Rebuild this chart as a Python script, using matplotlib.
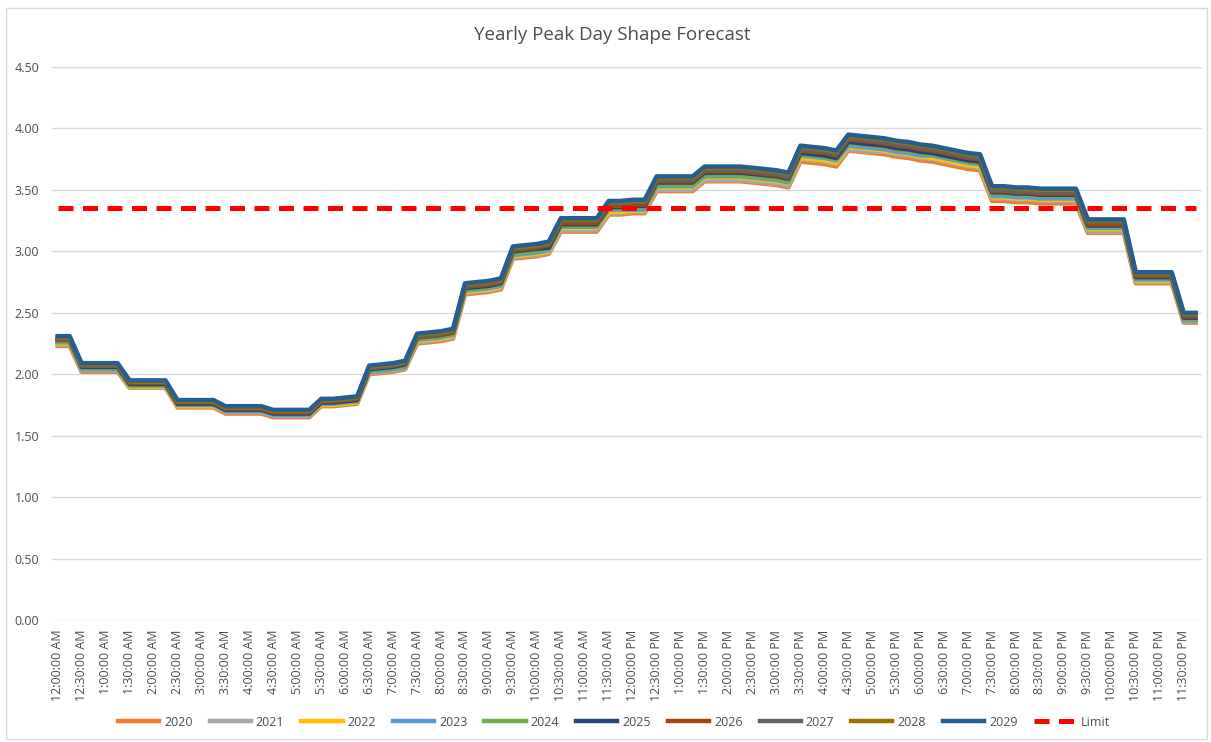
import matplotlib

matplotlib.use("Agg")

import matplotlib.pyplot as plt
from matplotlib.patches import Rectangle

plt.rcParams["font.family"] = ["Open Sans", "DejaVu Sans"]

TITLE = "Yearly Peak Day Shape Forecast"

# labelled categories (every other 15-minute step is shown)
TIME_LABELS = [
    "12:00:00 AM", "12:30:00 AM", "1:00:00 AM", "1:30:00 AM", "2:00:00 AM", "2:30:00 AM",
    "3:00:00 AM", "3:30:00 AM", "4:00:00 AM", "4:30:00 AM", "5:00:00 AM", "5:30:00 AM",
    "6:00:00 AM", "6:30:00 AM", "7:00:00 AM", "7:30:00 AM", "8:00:00 AM", "8:30:00 AM",
    "9:00:00 AM", "9:30:00 AM", "10:00:00 AM", "10:30:00 AM", "11:00:00 AM", "11:30:00 AM",
    "12:00:00 PM", "12:30:00 PM", "1:00:00 PM", "1:30:00 PM", "2:00:00 PM", "2:30:00 PM",
    "3:00:00 PM", "3:30:00 PM", "4:00:00 PM", "4:30:00 PM", "5:00:00 PM", "5:30:00 PM",
    "6:00:00 PM", "6:30:00 PM", "7:00:00 PM", "7:30:00 PM", "8:00:00 PM", "8:30:00 PM",
    "9:00:00 PM", "9:30:00 PM", "10:00:00 PM", "10:30:00 PM", "11:00:00 PM", "11:30:00 PM",
]

YEARS = ["2020", "2021", "2022", "2023", "2024", "2025", "2026", "2027", "2028", "2029"]
COLORS = ["#ED7D31", "#A5A5A5", "#FFC000", "#5B9BD5", "#70AD47",
          "#264478", "#9E480E", "#636363", "#997300", "#255E91"]

# 15-minute peak day shape, one list per year
y2020 = [2.23, 2.23, 2.02, 2.02, 2.02, 2.02, 1.89, 1.89, 1.89, 1.89, 1.73, 1.73, 1.73, 1.73,
         1.68, 1.68, 1.68, 1.68, 1.65, 1.65, 1.65, 1.65, 1.74, 1.74, 1.75, 1.76, 2.00, 2.01, 2.02, 2.04,
         2.25, 2.26, 2.27, 2.29, 2.65, 2.66, 2.67, 2.69, 2.94, 2.95, 2.96, 2.98, 3.16, 3.16, 3.16, 3.16,
         3.30, 3.30, 3.31, 3.31, 3.49, 3.49, 3.49, 3.49, 3.57, 3.57, 3.57, 3.57, 3.56, 3.55, 3.54, 3.52,
         3.73, 3.72, 3.71, 3.69, 3.82, 3.81, 3.80, 3.79, 3.77, 3.76, 3.74, 3.73, 3.71, 3.69, 3.67, 3.66,
         3.41, 3.41, 3.40, 3.40, 3.39, 3.39, 3.39, 3.39, 3.15, 3.15, 3.15, 3.15, 2.74, 2.74, 2.74, 2.74, 2.42, 2.42]
y2021 = [2.24, 2.24, 2.03, 2.03, 2.03, 2.03, 1.89, 1.89, 1.89, 1.89, 1.74, 1.74, 1.74, 1.74,
         1.69, 1.69, 1.69, 1.69, 1.66, 1.66, 1.66, 1.66, 1.75, 1.75, 1.76, 1.77, 2.01, 2.02, 2.03, 2.05,
         2.26, 2.27, 2.28, 2.30, 2.66, 2.67, 2.68, 2.70, 2.95, 2.96, 2.97, 2.99, 3.17, 3.17, 3.17, 3.17,
         3.31, 3.31, 3.32, 3.32, 3.50, 3.50, 3.50, 3.50, 3.58, 3.58, 3.58, 3.58, 3.57, 3.56, 3.55, 3.53,
         3.75, 3.74, 3.73, 3.71, 3.83, 3.82, 3.81, 3.81, 3.79, 3.78, 3.76, 3.75, 3.73, 3.71, 3.69, 3.68,
         3.43, 3.43, 3.42, 3.42, 3.41, 3.41, 3.41, 3.41, 3.16, 3.16, 3.16, 3.16, 2.75, 2.75, 2.75, 2.75, 2.43, 2.43]
y2022 = [2.25, 2.25, 2.04, 2.04, 2.04, 2.04, 1.90, 1.90, 1.90, 1.90, 1.74, 1.74, 1.74, 1.74,
         1.70, 1.70, 1.70, 1.70, 1.67, 1.67, 1.67, 1.67, 1.75, 1.75, 1.76, 1.77, 2.02, 2.03, 2.04, 2.06,
         2.27, 2.28, 2.29, 2.31, 2.67, 2.68, 2.69, 2.71, 2.96, 2.97, 2.98, 3.00, 3.19, 3.19, 3.19, 3.19,
         3.32, 3.32, 3.33, 3.33, 3.52, 3.52, 3.52, 3.52, 3.60, 3.60, 3.60, 3.60, 3.59, 3.58, 3.57, 3.55,
         3.76, 3.75, 3.74, 3.72, 3.85, 3.84, 3.83, 3.82, 3.80, 3.79, 3.77, 3.76, 3.74, 3.72, 3.70, 3.69,
         3.44, 3.44, 3.43, 3.43, 3.42, 3.42, 3.42, 3.42, 3.18, 3.18, 3.18, 3.18, 2.76, 2.76, 2.76, 2.76, 2.44, 2.44]
y2023 = [2.26, 2.26, 2.04, 2.04, 2.04, 2.04, 1.91, 1.91, 1.91, 1.91, 1.75, 1.75, 1.75, 1.75,
         1.70, 1.70, 1.70, 1.70, 1.67, 1.67, 1.67, 1.67, 1.76, 1.76, 1.77, 1.78, 2.02, 2.03, 2.04, 2.06,
         2.28, 2.29, 2.30, 2.32, 2.68, 2.69, 2.70, 2.72, 2.97, 2.98, 2.99, 3.01, 3.20, 3.20, 3.20, 3.20,
         3.34, 3.34, 3.34, 3.34, 3.53, 3.53, 3.53, 3.53, 3.61, 3.61, 3.61, 3.61, 3.60, 3.59, 3.58, 3.56,
         3.78, 3.77, 3.76, 3.74, 3.86, 3.85, 3.84, 3.83, 3.81, 3.80, 3.78, 3.78, 3.76, 3.74, 3.72, 3.71,
         3.45, 3.45, 3.44, 3.44, 3.43, 3.43, 3.43, 3.43, 3.19, 3.19, 3.19, 3.19, 2.77, 2.77, 2.77, 2.77, 2.44, 2.44]
y2024 = [2.27, 2.27, 2.05, 2.05, 2.05, 2.05, 1.91, 1.91, 1.91, 1.91, 1.76, 1.76, 1.76, 1.76,
         1.71, 1.71, 1.71, 1.71, 1.68, 1.68, 1.68, 1.68, 1.77, 1.77, 1.78, 1.79, 2.03, 2.04, 2.05, 2.07,
         2.29, 2.30, 2.31, 2.33, 2.69, 2.70, 2.71, 2.73, 2.98, 2.99, 3.00, 3.02, 3.21, 3.21, 3.21, 3.21,
         3.35, 3.35, 3.36, 3.36, 3.54, 3.54, 3.54, 3.54, 3.62, 3.62, 3.62, 3.62, 3.61, 3.60, 3.59, 3.57,
         3.79, 3.78, 3.77, 3.75, 3.88, 3.87, 3.86, 3.85, 3.83, 3.82, 3.80, 3.79, 3.77, 3.75, 3.73, 3.72,
         3.47, 3.47, 3.46, 3.46, 3.45, 3.45, 3.45, 3.45, 3.20, 3.20, 3.20, 3.20, 2.78, 2.78, 2.78, 2.78, 2.45, 2.45]
y2025 = [2.28, 2.28, 2.06, 2.06, 2.06, 2.06, 1.92, 1.92, 1.92, 1.92, 1.76, 1.76, 1.76, 1.76,
         1.71, 1.71, 1.71, 1.71, 1.68, 1.68, 1.68, 1.68, 1.77, 1.77, 1.78, 1.79, 2.04, 2.05, 2.06, 2.08,
         2.30, 2.31, 2.32, 2.34, 2.70, 2.71, 2.72, 2.74, 3.00, 3.01, 3.02, 3.03, 3.22, 3.22, 3.22, 3.22,
         3.36, 3.36, 3.37, 3.37, 3.56, 3.56, 3.56, 3.56, 3.64, 3.64, 3.64, 3.64, 3.63, 3.62, 3.61, 3.59,
         3.80, 3.79, 3.78, 3.76, 3.89, 3.88, 3.87, 3.86, 3.84, 3.83, 3.81, 3.80, 3.78, 3.76, 3.74, 3.73,
         3.48, 3.48, 3.47, 3.47, 3.46, 3.46, 3.46, 3.46, 3.21, 3.21, 3.21, 3.21, 2.79, 2.79, 2.79, 2.79, 2.46, 2.46]
y2026 = [2.28, 2.28, 2.07, 2.07, 2.07, 2.07, 1.93, 1.93, 1.93, 1.93, 1.77, 1.77, 1.77, 1.77,
         1.72, 1.72, 1.72, 1.72, 1.69, 1.69, 1.69, 1.69, 1.78, 1.78, 1.79, 1.80, 2.05, 2.06, 2.07, 2.09,
         2.30, 2.31, 2.32, 2.34, 2.71, 2.72, 2.73, 2.75, 3.01, 3.02, 3.03, 3.05, 3.23, 3.23, 3.23, 3.23,
         3.37, 3.37, 3.38, 3.38, 3.57, 3.57, 3.57, 3.57, 3.65, 3.65, 3.65, 3.65, 3.64, 3.63, 3.62, 3.60,
         3.82, 3.81, 3.80, 3.78, 3.91, 3.90, 3.89, 3.88, 3.86, 3.85, 3.83, 3.82, 3.80, 3.78, 3.76, 3.75,
         3.49, 3.49, 3.48, 3.48, 3.47, 3.47, 3.47, 3.47, 3.22, 3.22, 3.22, 3.22, 2.80, 2.80, 2.80, 2.80, 2.47, 2.47]
y2027 = [2.29, 2.29, 2.07, 2.07, 2.07, 2.07, 1.94, 1.94, 1.94, 1.94, 1.78, 1.78, 1.78, 1.78,
         1.73, 1.73, 1.73, 1.73, 1.70, 1.70, 1.70, 1.70, 1.79, 1.79, 1.80, 1.81, 2.05, 2.06, 2.07, 2.09,
         2.31, 2.32, 2.33, 2.35, 2.72, 2.73, 2.74, 2.76, 3.02, 3.03, 3.04, 3.06, 3.25, 3.25, 3.25, 3.25,
         3.39, 3.39, 3.40, 3.40, 3.58, 3.58, 3.58, 3.58, 3.66, 3.66, 3.66, 3.66, 3.65, 3.64, 3.63, 3.61,
         3.83, 3.82, 3.81, 3.79, 3.92, 3.91, 3.90, 3.89, 3.87, 3.86, 3.84, 3.83, 3.81, 3.79, 3.77, 3.76,
         3.50, 3.50, 3.49, 3.49, 3.48, 3.48, 3.48, 3.48, 3.24, 3.24, 3.24, 3.24, 2.81, 2.81, 2.81, 2.81, 2.48, 2.48]
y2028 = [2.30, 2.30, 2.08, 2.08, 2.08, 2.08, 1.94, 1.94, 1.94, 1.94, 1.78, 1.78, 1.78, 1.78,
         1.73, 1.73, 1.73, 1.73, 1.70, 1.70, 1.70, 1.70, 1.79, 1.79, 1.80, 1.81, 2.06, 2.07, 2.08, 2.10,
         2.32, 2.33, 2.34, 2.36, 2.73, 2.74, 2.75, 2.77, 3.03, 3.04, 3.05, 3.07, 3.26, 3.26, 3.26, 3.26,
         3.40, 3.40, 3.41, 3.41, 3.60, 3.60, 3.60, 3.60, 3.68, 3.68, 3.68, 3.68, 3.67, 3.66, 3.65, 3.63,
         3.85, 3.84, 3.83, 3.81, 3.94, 3.93, 3.92, 3.91, 3.89, 3.88, 3.86, 3.85, 3.83, 3.81, 3.79, 3.78,
         3.52, 3.52, 3.51, 3.51, 3.50, 3.50, 3.50, 3.50, 3.25, 3.25, 3.25, 3.25, 2.82, 2.82, 2.82, 2.82, 2.49, 2.49]
y2029 = [2.31, 2.31, 2.09, 2.09, 2.09, 2.09, 1.95, 1.95, 1.95, 1.95, 1.79, 1.79, 1.79, 1.79,
         1.74, 1.74, 1.74, 1.74, 1.71, 1.71, 1.71, 1.71, 1.80, 1.80, 1.81, 1.82, 2.07, 2.08, 2.09, 2.11,
         2.33, 2.34, 2.35, 2.37, 2.74, 2.75, 2.76, 2.78, 3.04, 3.05, 3.06, 3.08, 3.27, 3.27, 3.27, 3.27,
         3.41, 3.41, 3.42, 3.42, 3.61, 3.61, 3.61, 3.61, 3.69, 3.69, 3.69, 3.69, 3.68, 3.67, 3.66, 3.64,
         3.86, 3.85, 3.84, 3.82, 3.95, 3.94, 3.93, 3.92, 3.90, 3.89, 3.87, 3.86, 3.84, 3.82, 3.80, 3.79,
         3.53, 3.53, 3.52, 3.52, 3.51, 3.51, 3.51, 3.51, 3.26, 3.26, 3.26, 3.26, 2.83, 2.83, 2.83, 2.83, 2.50, 2.50]

SERIES = [y2020, y2021, y2022, y2023, y2024, y2025, y2026, y2027, y2028, y2029]
LIMIT = 3.35

TEXT = "#4D4D4D"
GRID = "#D9D9D9"


def main() -> None:
    fig = plt.figure(figsize=(12.11, 7.42), dpi=100)
    ax = fig.add_axes([0.0427, 0.1644, 0.9496, 0.7453])

    x = list(range(len(y2029)))
    for name, vals, col in zip(YEARS, SERIES, COLORS):
        ax.plot(x, vals, color=col, lw=3.2, label=name, solid_joinstyle="round")
    ax.hlines(LIMIT, x[0], x[-1], colors="#FF0000", lw=3.6, linestyles=(0, (3.0, 1.9)),
              label="Limit", zorder=5)

    ax.set_xlim(-0.5, len(x) - 0.5)
    ax.set_ylim(0, 4.5)
    ax.set_yticks([i * 0.5 for i in range(10)])
    ax.set_yticklabels([f"{i * 0.5:.2f}" for i in range(10)])
    ax.set_xticks(x[::2])
    ax.set_xticklabels(TIME_LABELS, rotation=90, va="top", ha="center")

    ax.grid(axis="y", color=GRID, lw=1.0)
    ax.set_axisbelow(True)
    for s in ax.spines.values():
        s.set_visible(False)
    ax.tick_params(axis="both", length=0, colors=TEXT)
    ax.tick_params(axis="y", pad=9, labelsize=9)
    ax.tick_params(axis="x", pad=7, labelsize=9)

    fig.text(612 / 1211, 1 - 35 / 742, TITLE, fontsize=13.5, color=TEXT,
             ha="center", va="center")

    leg = fig.legend(loc="center", bbox_to_anchor=(614 / 1211, 1 - 722 / 742), ncol=11,
                     frameon=False, fontsize=9, handlelength=3.3, handletextpad=0.4,
                     columnspacing=1.35)
    for t in leg.get_texts():
        t.set_color(TEXT)

    fig.add_artist(Rectangle((6 / 1211, 1 - 739 / 742), 1201 / 1211, 731 / 742,
                             transform=fig.transFigure, fill=False, ec=GRID, lw=1.0))

    fig.savefig("out.png", dpi=100)
    plt.close(fig)


if __name__ == "__main__":
    main()
